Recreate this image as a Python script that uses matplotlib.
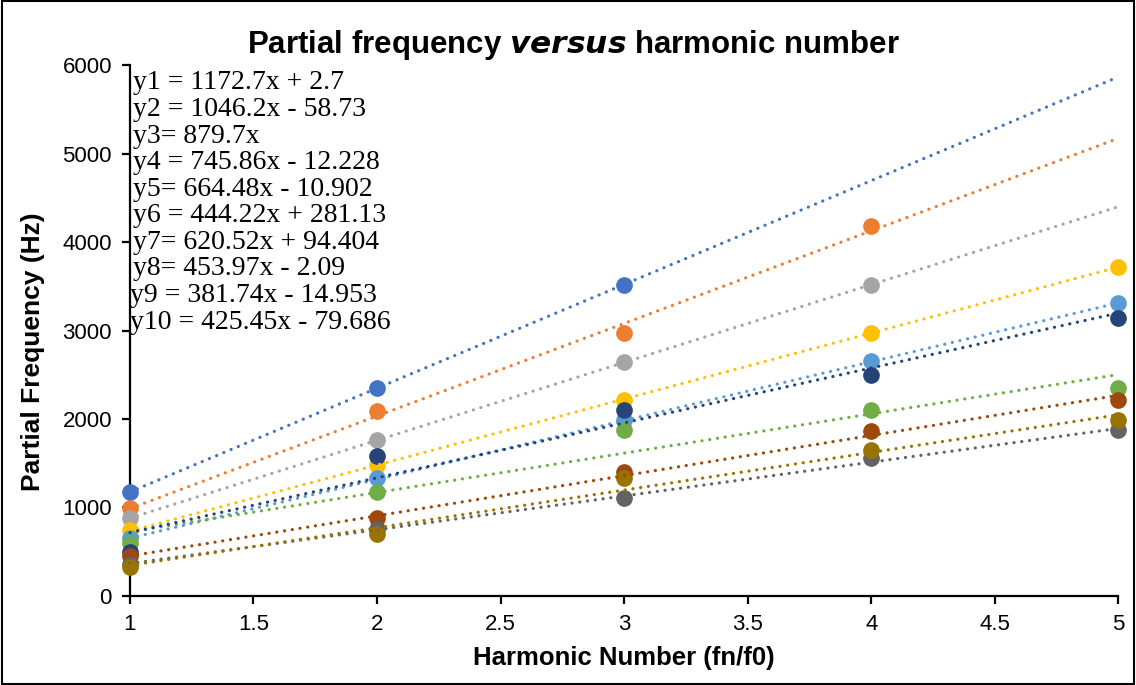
import numpy as np
import matplotlib.pyplot as plt
from matplotlib.patches import Rectangle

harmonic = [1, 2, 3, 4, 5]

# measured partial frequencies (Hz) for each of the ten notes
f1 = [1175, 2348, 3520]
f2 = [990, 2090, 2970, 4180]
f3 = [880, 1765, 2640, 3520]
f4 = [740, 1480, 2220, 2970, 3720]
f5 = [650, 1330, 1990, 2650, 3310]
f6 = [600, 1180, 1870, 2100, 2350]
f7 = [500, 1580, 2100, 2500, 3140]
f8 = [450, 880, 1400, 1860, 2210]
f9 = [360, 760, 1110, 1560, 1870]
f10 = [330, 700, 1330, 1650, 1990]
series = [f1, f2, f3, f4, f5, f6, f7, f8, f9, f10]

# linear trendline coefficients (slope, intercept)
slopes = [1172.7, 1046.2, 879.7, 745.86, 664.48, 444.22, 620.52, 453.97, 381.74, 425.45]
intercepts = [2.7, -58.73, 0.0, -12.228, -10.902, 281.13, 94.404, -2.09, -14.953, -79.686]

equations = [
    "y1 = 1172.7x + 2.7",
    "y2 = 1046.2x - 58.73",
    "y3= 879.7x",
    "y4 = 745.86x - 12.228",
    "y5= 664.48x - 10.902",
    "y6 = 444.22x + 281.13",
    "y7= 620.52x + 94.404",
    "y8= 453.97x - 2.09",
    "y9 = 381.74x - 14.953",
    "y10 = 425.45x - 79.686",
]

colors = ["#4472C4", "#ED7D31", "#A5A5A5", "#FFC000", "#5B9BD5",
          "#70AD47", "#264478", "#9E480E", "#636363", "#997300"]

plt.rcParams['font.family'] = ['Liberation Sans', 'DejaVu Sans']

fig = plt.figure(figsize=(11.36, 6.85), dpi=100)
ax = fig.add_axes([0.1144, 0.130, 0.870, 0.775])

xfit = np.array([1.0, 5.0])
for ys, c, m, b in zip(series, colors, slopes, intercepts):
    xs = harmonic[:len(ys)]
    ax.plot(xs, ys, 'o', color=c, markersize=11, zorder=3, clip_on=False)
    ax.plot(xfit, m * xfit + b, color=c, lw=2.3, linestyle=(0, (0.05, 2.4)),
            dash_capstyle='round', zorder=4, clip_on=False)

ax.set_xlim(1, 5)
ax.set_ylim(0, 6000)
ax.set_xticks(np.arange(1, 5.01, 0.5))
ax.set_xticklabels(["1", "1.5", "2", "2.5", "3", "3.5", "4", "4.5", "5"])
ax.set_yticks(np.arange(0, 6001, 1000))

for s in ['top', 'right']:
    ax.spines[s].set_visible(False)
for s in ['left', 'bottom']:
    ax.spines[s].set_linewidth(1.6)
    ax.spines[s].set_color('black')
ax.tick_params(axis='both', direction='out', length=6, width=1.6,
               labelsize=16, colors='black')
ax.tick_params(axis='x', pad=7)
ax.tick_params(axis='y', pad=7)

ax.set_xlabel("Harmonic Number (fn/f0)", fontsize=18.5, fontweight='bold', labelpad=8)
ax.set_ylabel("Partial Frequency (Hz)", fontsize=19, fontweight='bold')
ax.yaxis.set_label_coords(-0.086, 0.46)

fig.text(0.505, 0.934, r"Partial frequency $\mathbfit{versus}$ harmonic number",
         ha='center', va='center', fontsize=22.5, fontweight='bold')

for i, eq in enumerate(equations):
    x0 = 0.117 if i < 8 else 0.1145
    fig.text(x0, 0.879 - i * 0.0388, eq, ha='left', va='center',
             fontsize=20, family=['Liberation Serif', 'DejaVu Serif'])

fig.add_artist(Rectangle((0.002, 0.002), 0.996, 0.996, transform=fig.transFigure,
                         fill=False, edgecolor='black', linewidth=1.5))

fig.savefig("out.png", dpi=100)
